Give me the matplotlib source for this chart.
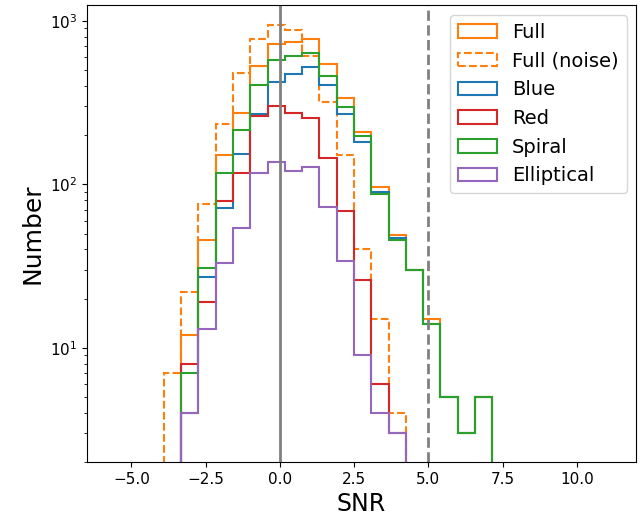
import numpy as np
import matplotlib
matplotlib.use("Agg")
import matplotlib.pyplot as plt

# Histogram bins (SNR), 19 equal-width bins
bin_edges = np.linspace(-3.91, 7.15, 20)

# Counts per bin
full = [0, 12, 46, 151, 272, 531, 720, 740, 776, 548, 340, 208, 97, 49, 30, 15, 5, 3, 5]
full_noise = [7, 22, 76, 233, 478, 776, 948, 883, 610, 320, 151, 40, 15, 4, 0, 0, 0, 0, 0]
blue = [0, 4, 27, 72, 154, 271, 421, 471, 522, 405, 271, 183, 90, 47, 30, 14, 5, 3, 5]
red = [0, 8, 19, 79, 118, 263, 304, 274, 254, 146, 69, 26, 6, 3, 0, 0, 0, 0, 0]
spiral = [0, 7, 31, 117, 216, 405, 576, 610, 636, 462, 297, 197, 87, 46, 30, 14, 5, 3, 5]
elliptical = [0, 4, 13, 33, 54, 117, 137, 121, 127, 73, 34, 9, 4, 3, 0, 0, 0, 0, 0]

fig, ax = plt.subplots(figsize=(6.44, 5.18), dpi=100)
fig.subplots_adjust(left=0.135, right=0.988, bottom=0.108, top=0.99)

centers = 0.5 * (bin_edges[:-1] + bin_edges[1:])

series = [
    (full, "tab:orange", "-", "Full"),
    (full_noise, "tab:orange", "--", "Full (noise)"),
    (blue, "tab:blue", "-", "Blue"),
    (red, "tab:red", "-", "Red"),
    (spiral, "tab:green", "-", "Spiral"),
    (elliptical, "tab:purple", "-", "Elliptical"),
]
for counts, col, ls, lab in series:
    ax.hist(centers, bins=bin_edges, weights=counts, histtype="step",
            color=col, ls=ls, lw=1.5, log=True, label=lab)

ax.axvline(0, color="gray", lw=2)
ax.axvline(5, color="gray", lw=2, ls="--")

ax.set_xlim(-6.5, 12.0)
ax.set_ylim(2, 1250)

ax.set_xlabel("SNR", fontsize=17)
ax.set_ylabel("Number", fontsize=18)
ax.tick_params(labelsize=11)

ax.legend(loc="upper right", fontsize=14, handlelength=2.0, labelspacing=0.5)

fig.savefig("out.png", dpi=100)
